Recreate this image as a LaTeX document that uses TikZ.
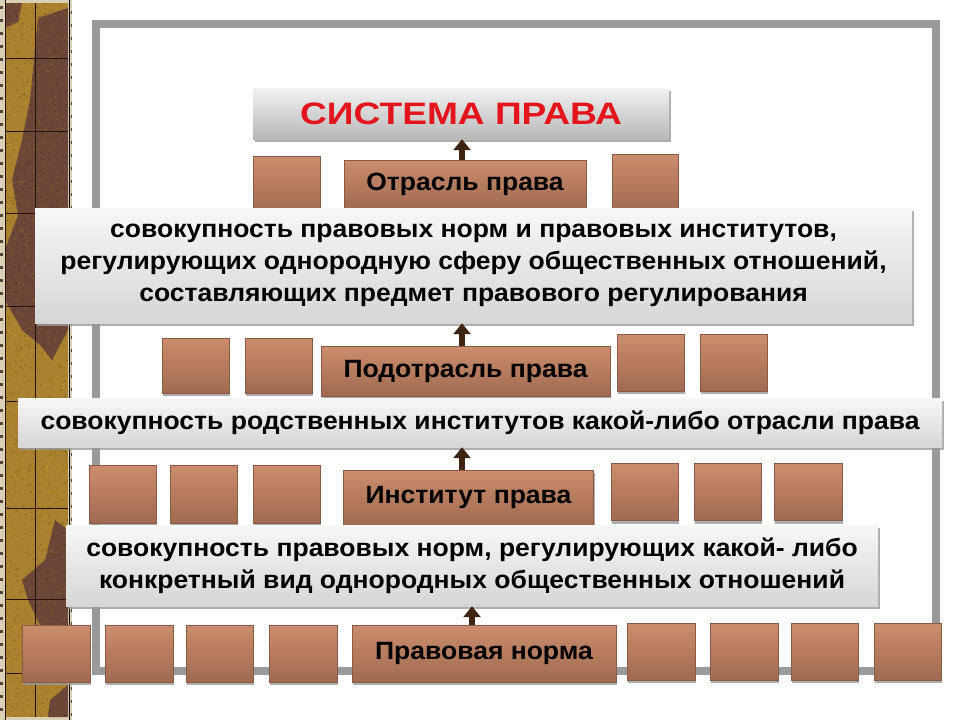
\documentclass[tikz,border=0pt]{standalone}
\usepackage{fontspec}
\setmainfont[FakeStretch=1.06]{Liberation Sans}
\usetikzlibrary{arrows.meta,shadows}
\definecolor{framegray}{HTML}{9A9A9A}
\definecolor{brtop}{HTML}{CB8D6D}
\definecolor{brbot}{HTML}{A06A50}
\definecolor{brline}{HTML}{8A5A44}
\definecolor{deftop}{HTML}{F7F7F7}
\definecolor{defbot}{HTML}{D6D6D6}
\definecolor{titletop}{HTML}{F2F2F2}
\definecolor{titlebot}{HTML}{B8B8B8}
\definecolor{titlered}{HTML}{E3141B}
\definecolor{arrowc}{HTML}{3F2410}
\definecolor{stripbeige}{HTML}{DCD0B4}
\definecolor{stripgold}{HTML}{A9812F}
\definecolor{stripbrown}{HTML}{6C4636}
\definecolor{stripline}{HTML}{2A1208}
\tikzset{
  brbox/.style={draw=brline, line width=0.6pt, top color=brtop, bottom color=brbot,
    inner sep=0pt, drop shadow={shadow xshift=1pt, shadow yshift=-3pt, fill=black!40, opacity=0.8}},
  sq/.style={brbox, minimum width=67pt, minimum height=57pt},
  lbl/.style={brbox, font=\bfseries\fontsize{25}{29}\selectfont, text=black},
  defbox/.style={top color=deftop, bottom color=defbot, inner sep=0pt, align=center,
    font=\bfseries\fontsize{25}{32}\selectfont,
    drop shadow={shadow xshift=1.5pt, shadow yshift=-3pt, fill=black!40, opacity=0.8}},
  titlebox/.style={top color=titletop, bottom color=titlebot, inner sep=0pt,
    font=\bfseries\fontsize{31}{36}\selectfont, text=titlered,
    drop shadow={shadow xshift=1.5pt, shadow yshift=-3pt, fill=black!40, opacity=0.8}},
  uparrow/.style={line width=5.5pt, draw=arrowc, -{Triangle[width=17pt,length=11pt]}},
  gridline/.style={stripline, line width=0.9pt}
}
\begin{document}
\begin{tikzpicture}[x=1pt,y=-1pt]
\fill[white] (0,0) rectangle (960,720);
\useasboundingbox (0,0) rectangle (960,720);
% ---- textured strip on the left
\fill[stripbeige] (0,0) rectangle (72,720);
\fill[stripgold] (5,3) rectangle (68,717);
\fill[stripbrown] (38,18) -- (68,8) -- (68,330) -- (52,360) -- (40,345) -- (22,330) -- (5,300) -- (5,250)
  -- (18,215) -- (12,180) -- (22,140) -- (30,100) -- (34,60) -- cycle;
\fill[stripbrown] (5,3) -- (22,3) -- (18,22) -- (5,28) -- cycle;
\fill[stripbrown] (68,530) -- (55,520) -- (45,560) -- (22,580) -- (28,600) -- (40,625) -- (68,640) -- cycle;
\fill[stripbrown] (68,685) -- (50,700) -- (48,717) -- (68,717) -- cycle;
\pgfmathsetseed{7}
\foreach \i in {1,...,900}{
  \fill[black, opacity=0.25] ({5+63*rnd},{3+714*rnd}) circle (0.7pt);
}
\foreach \i in {1,...,500}{
  \fill[yellow!60!orange, opacity=0.3] ({5+63*rnd},{3+714*rnd}) circle (0.7pt);
}
\draw[gridline] (35,3) -- (35,717);
\foreach \yy in {58,131,213,306,401,508,599,673}{
  \draw[gridline] (5,\yy) -- (68,\yy);
}
\draw[black, line width=1.6pt] (69.5,0) -- (69.5,720);
\draw[stripline, line width=0.8pt] (5,0) -- (5,720);
\foreach \yy in {6,19,...,715}{
  \fill[stripline!80] (0,\yy) rectangle (3,\yy+2.5);
  \fill[stripline!80] (70.5,\yy+5) rectangle (72,\yy+7.5);
}
% ---- gray frame
\draw[framegray, line width=8pt] (96,24) rectangle (936,671);
% ---- title and row 1
\node[titlebox, minimum width=416pt, minimum height=51pt] (title) at (461,113.5)
  {\raisebox{-3pt}{\scalebox{1.13}[1]{СИСТЕМА ПРАВА}}};
\node[sq, minimum width=67pt, minimum height=57pt] (s1) at (286.5,184.5) {};
\node[sq, minimum width=66pt, minimum height=58pt] (s2) at (645,183) {};
\node[lbl, minimum width=242pt, minimum height=48pt] (otrasl) at (465,184) {Отрасль права};
\node[defbox, minimum width=877pt, minimum height=115pt] (def1) at (473.5,265.5)
  {совокупность правовых норм и правовых институтов,\\
   регулирующих однородную сферу общественных отношений,\\
   составляющих предмет правового регулирования};
% ---- row 2
\node[sq, minimum height=55pt] (s3) at (195.5,365.5) {};
\node[sq, minimum height=55pt] (s4) at (278.5,365.5) {};
\node[lbl, minimum width=289pt, minimum height=50pt] (pod) at (465.5,371) {Подотрасль права};
\node[sq] (s5) at (650.5,362.5) {};
\node[sq] (s6) at (733.5,362.5) {};
\node[defbox, minimum width=924pt, minimum height=49pt] (def2) at (480,422.5)
  {совокупность родственных институтов какой-либо отрасли права};
% ---- row 3
\node[sq, minimum height=58pt] (s7) at (122.5,494) {};
\node[sq, minimum height=58pt] (s8) at (203.5,494) {};
\node[sq, minimum height=58pt] (s9) at (286.5,494) {};
\node[lbl, minimum width=250pt, minimum height=55pt] (inst) at (468.5,497.5) {Институт права};
\node[sq] (s10) at (644.5,492) {};
\node[sq] (s11) at (727.5,492) {};
\node[sq, minimum width=68pt] (s12) at (808,492) {};
\node[defbox, minimum width=812pt, minimum height=81pt] (def3) at (472,565.5)
  {совокупность правовых норм, регулирующих какой- либо\\
   конкретный вид однородных общественных отношений};
% ---- row 4
\node[sq, minimum width=68pt] (n1) at (56,653.5) {};
\node[sq, minimum width=68pt] (n2) at (139,653.5) {};
\node[sq] (n3) at (219.5,653.5) {};
\node[sq, minimum width=68pt] (n4) at (303,653.5) {};
\node[lbl, minimum width=264pt, minimum height=57pt] (norma) at (484,653.5) {Правовая норма};
\node[sq, minimum width=68pt] (n5) at (661,651.5) {};
\node[sq, minimum width=68pt] (n6) at (744,651.5) {};
\node[sq] (n7) at (824.5,651.5) {};
\node[sq] (n8) at (907.5,651.5) {};
% ---- arrows
\coordinate (ax) at (462,0);
\coordinate (axn) at (472,0);
\draw[uparrow] (otrasl.north -| ax) -- (title.south -| ax);
\draw[uparrow] (pod.north -| ax) -- (def1.south -| ax);
\draw[uparrow] (inst.north -| ax) -- (def2.south -| ax);
\draw[uparrow] (norma.north -| axn) -- (def3.south -| axn);
\end{tikzpicture}
\end{document}
